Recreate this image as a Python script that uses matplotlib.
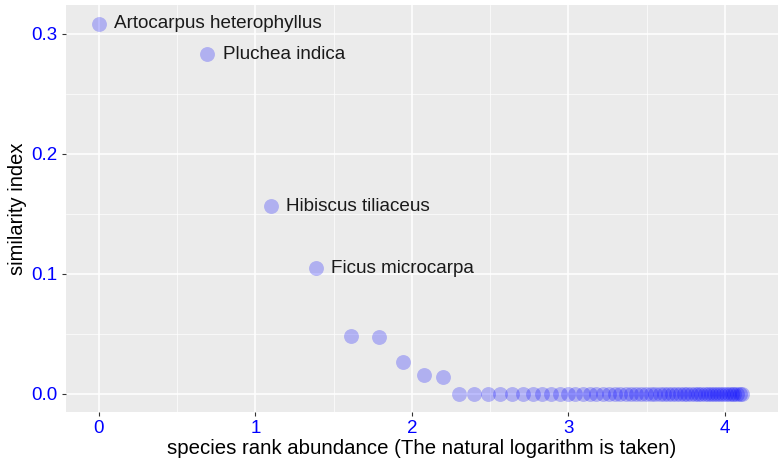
import matplotlib.pyplot as plt
import numpy as np

plt.rcParams['font.family'] = ['Liberation Sans', 'DejaVu Sans']

# species ranks and their similarity index
ranks = list(range(1, 62))
similarity = [0.3085, 0.283, 0.156, 0.1045, 0.048, 0.047, 0.0265, 0.0158, 0.014] + [0.0] * 52
labels = ['Artocarpus heterophyllus', 'Pluchea indica', 'Hibiscus tiliaceus', 'Ficus microcarpa']

x = np.log(ranks)
y = np.array(similarity)

fig = plt.figure(figsize=(7.79, 4.65), dpi=100)
ax = fig.add_axes([66 / 779, 1 - 412 / 465, (778 - 66) / 779, (412 - 5) / 465])
ax.set_facecolor('#EBEBEB')

ax.scatter(x, y, s=115, color='blue', alpha=0.25, linewidths=0, zorder=3)

for i, lab in enumerate(labels):
    ax.annotate(lab, (x[i], y[i]), xytext=(11, 0), textcoords='offset points',
                va='center', ha='left', fontsize=13.6, color='#1a1a1a', zorder=4)

ax.set_xlim(-0.21, 4.34)
yr = y.max() - y.min()
ax.set_ylim(y.min() - 0.05 * yr, y.max() + 0.05 * yr)
ax.set_xticks([0, 1, 2, 3, 4])
ax.set_yticks([0.0, 0.1, 0.2, 0.3])
ax.set_yticklabels(['0.0', '0.1', '0.2', '0.3'])
ax.set_xticks([0.5, 1.5, 2.5, 3.5], minor=True)
ax.set_yticks([0.05, 0.15, 0.25], minor=True)
ax.grid(which='major', color='white', linewidth=1.1)
ax.grid(which='minor', color='white', linewidth=0.5)
ax.set_axisbelow(True)
ax.tick_params(which='major', colors='#333333', labelcolor='blue', labelsize=13.5, length=3, pad=3)
ax.tick_params(which='minor', length=0)
for sp in ax.spines.values():
    sp.set_visible(False)

ax.set_xlabel('species rank abundance (The natural logarithm is taken)', fontsize=14.7, labelpad=1)
ax.set_ylabel('similarity index', fontsize=14.5, labelpad=3)

fig.savefig('out.png', dpi=100)
